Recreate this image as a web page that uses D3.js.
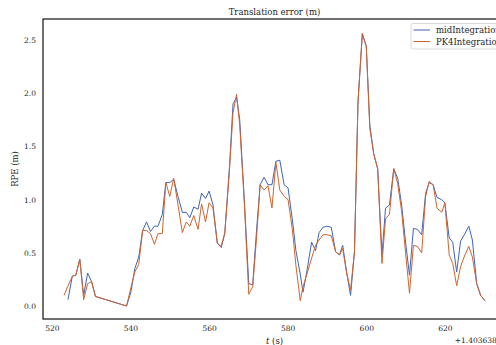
<!DOCTYPE html>
<html>
<head>
<meta charset="utf-8">
<script src="https://cdn.jsdelivr.net/npm/d3@7"></script>
<style>
  body { margin: 0; background: #fff; }
  svg { display: block; font-family: "DejaVu Serif", serif; }
</style>
</head>
<body>
<div class="displayArea"></div>
<script>
// time in seconds, shown relative to the offset 1.403638e9
var times = [523.1, 524.1, 525.2, 526.1, 527.1, 528.1, 529.1, 530.1, 531.1, 539.0,
    540.1, 541.1, 542.1, 543.1, 544.1, 545.1, 546.1, 547.0, 548.1, 549.0,
    550.0, 551.0, 552.1, 553.2, 554.2, 555.1, 556.1, 557.2, 558.1, 559.1,
    560.0, 561.0, 562.1, 563.1, 564.0, 565.2, 566.1, 567.0, 567.8, 569.0,
    570.1, 571.1, 572.1, 573.0, 574.0, 575.0, 576.0, 577.0, 578.0, 579.1,
    580.1, 581.2, 582.1, 583.2, 583.9, 584.9, 586.1, 587.1, 588.0, 589.0,
    590.0, 591.1, 592.2, 593.2, 594.0, 595.0, 596.0, 597.0, 597.9, 599.0,
    600.0, 600.9, 601.9, 602.9, 604.0, 604.9, 605.9, 607.0, 608.0, 609.0,
    610.0, 611.0, 612.0, 613.0, 614.1, 615.1, 616.0, 617.0, 618.0, 619.2,
    620.0, 621.1, 622.0, 623.0, 624.0, 625.1, 626.1, 627.0, 628.1, 629.1, 630.2];

var midIntegration = [null, 0.06, 0.28, 0.29, 0.44, 0.10, 0.31, 0.23, 0.09, 0.00,
    0.13, 0.35, 0.46, 0.71, 0.79, 0.70, 0.75, 0.75, 0.86, 1.16,
    1.16, 1.19, 1.03, 0.88, 0.88, 0.83, 0.93, 0.91, 1.06, 1.01,
    1.08, 0.95, 0.59, 0.55, 0.68, 1.31, 1.90, 1.96, 1.75, 0.98,
    0.21, 0.20, 0.72, 1.14, 1.21, 1.14, 1.14, 1.36, 1.37, 1.14,
    1.11, 0.81, 0.52, 0.30, 0.13, 0.33, 0.60, 0.52, 0.69, 0.74,
    0.75, 0.74, 0.51, 0.48, 0.57, 0.32, 0.10, 0.51, 1.92, 2.56,
    2.44, 1.70, 1.43, 1.29, 0.48, 0.92, 0.95, 1.29, 1.20, 0.95,
    0.60, 0.29, 0.73, 0.72, 0.67, 1.06, 1.16, 1.14, 1.02, 1.00,
    0.97, 0.64, 0.60, 0.32, 0.61, 0.68, 0.75, 0.62, 0.21, 0.10, 0.05];

var pk4Integration = [0.10, 0.19, 0.28, 0.29, 0.44, 0.06, 0.21, 0.23, 0.09, 0.00,
    0.17, 0.32, 0.39, 0.71, 0.71, 0.68, 0.58, 0.68, 0.68, 1.16,
    1.03, 1.20, 0.95, 0.69, 0.79, 0.75, 0.85, 0.72, 0.96, 0.79,
    0.97, 0.92, 0.59, 0.56, 0.69, 1.28, 1.82, 1.99, 1.70, 0.95,
    0.11, 0.18, 0.65, 1.14, 1.09, 1.13, 0.92, 1.35, 1.09, 1.03,
    1.00, 0.72, 0.38, 0.05, 0.18, 0.30, 0.45, 0.57, 0.62, 0.67,
    0.67, 0.66, 0.51, 0.48, 0.54, 0.31, 0.15, 0.51, 1.92, 2.56,
    2.44, 1.67, 1.43, 1.29, 0.40, 0.82, 0.86, 1.29, 1.15, 0.89,
    0.50, 0.12, 0.57, 0.56, 0.50, 1.03, 1.17, 1.14, 0.92, 0.88,
    0.97, 0.48, 0.40, 0.19, 0.37, 0.48, 0.56, 0.46, 0.21, 0.10, 0.05];

var xTicks = [520, 540, 560, 580, 600, 620],
    yTicks = [0.0, 0.5, 1.0, 1.5, 2.0, 2.5],
    seriesNames = ["midIntegration", "PK4Integration"],
    offsetLabel = "+1.403638e9";

var width = 496,
    height = 345,
    plotLeft = 43, plotRight = 506, plotTop = 19, plotBottom = 319;

var colours = ["#4064b8", "#d2632e"];

var svg = d3.select(".displayArea")
    .append("svg")
    .attr("width", width)
    .attr("height", height);

// matplotlib style 5% margin on x
var xMin = d3.min(times), xMax = d3.max(times);
var xPad = (xMax - xMin) * 0.05;

var xScale = d3.scaleLinear()
        .domain([xMin - xPad, xMax + xPad])
        .range([plotLeft, plotRight]),
    yScale = d3.scaleLinear()
        .domain([-0.122, 2.697])
        .range([plotBottom, plotTop]);

var xAxis = d3.axisBottom(xScale)
    .tickValues(xTicks)
    .tickSize(0)
    .tickPadding(7)
    .tickFormat(d3.format("d"));

var yAxis = d3.axisLeft(yScale)
    .tickValues(yTicks)
    .tickSize(0)
    .tickPadding(7)
    .tickFormat(d3.format(".1f"));

var gx = svg.append("g")
    .attr("transform", `translate(0, ${plotBottom})`)
    .call(xAxis);
var gy = svg.append("g")
    .attr("transform", `translate(${plotLeft}, 0)`)
    .call(yAxis);

[gx, gy].forEach(function (g) {
    g.select(".domain").remove();
    g.selectAll("text")
        .attr("fill", "#262626")
        .style("font-family", "DejaVu Serif")
        .style("font-size", "7.5px");
});

// lines
var lineData = [midIntegration, pk4Integration];
lineData.forEach(function (vals, k) {
    svg.append("path")
        .datum(vals)
        .attr("fill", "none")
        .attr("stroke", colours[k])
        .attr("stroke-width", 1)
        .attr("stroke-linejoin", "round")
        .attr("d", d3.line()
            .defined(d => d != null)
            .x((d, i) => xScale(times[i]))
            .y(d => yScale(d)));
});

// spines
svg.append("rect")
    .attr("x", plotLeft)
    .attr("y", plotTop)
    .attr("width", plotRight - plotLeft)
    .attr("height", plotBottom - plotTop)
    .attr("fill", "none")
    .attr("stroke", "#1a1a1a")
    .attr("stroke-width", 1.25);

// title and labels
svg.append("text")
    .attr("x", (plotLeft + plotRight) / 2)
    .attr("y", 15)
    .attr("text-anchor", "middle")
    .attr("fill", "#262626")
    .style("font-size", "8.5px")
    .text("Translation error (m)");

var xl = svg.append("text")
    .attr("x", (plotLeft + plotRight) / 2)
    .attr("y", 344)
    .attr("text-anchor", "middle")
    .attr("fill", "#262626")
    .style("font-size", "8.5px");
xl.append("tspan").style("font-style", "italic").text("t");
xl.append("tspan").text(" (s)");

svg.append("text")
    .attr("transform", `translate(18, ${(plotTop + plotBottom) / 2}) rotate(-90)`)
    .attr("text-anchor", "middle")
    .attr("fill", "#262626")
    .style("font-size", "8.5px")
    .text("RPE (m)");

svg.append("text")
    .attr("x", plotRight)
    .attr("y", 343)
    .attr("text-anchor", "end")
    .attr("fill", "#262626")
    .style("font-size", "7.5px")
    .text(offsetLabel);

// legend
var legend = svg.append("g")
    .attr("transform", "translate(411, 23.5)");
legend.append("rect")
    .attr("width", 98)
    .attr("height", 25.5)
    .attr("rx", 2)
    .attr("fill", "#fff")
    .attr("fill-opacity", 0.8)
    .attr("stroke", "#d0d0d0")
    .attr("stroke-width", 0.8);
seriesNames.forEach(function (name, k) {
    var ly = 6.5 + k * 11.5;
    legend.append("line")
        .attr("x1", 2.5).attr("x2", 19)
        .attr("y1", ly).attr("y2", ly)
        .attr("stroke", colours[k])
        .attr("stroke-width", 1);
    legend.append("text")
        .attr("x", 25)
        .attr("y", ly + 3)
        .attr("fill", "#262626")
        .style("font-size", "8.5px")
        .text(name);
});
</script>
</body>
</html>
